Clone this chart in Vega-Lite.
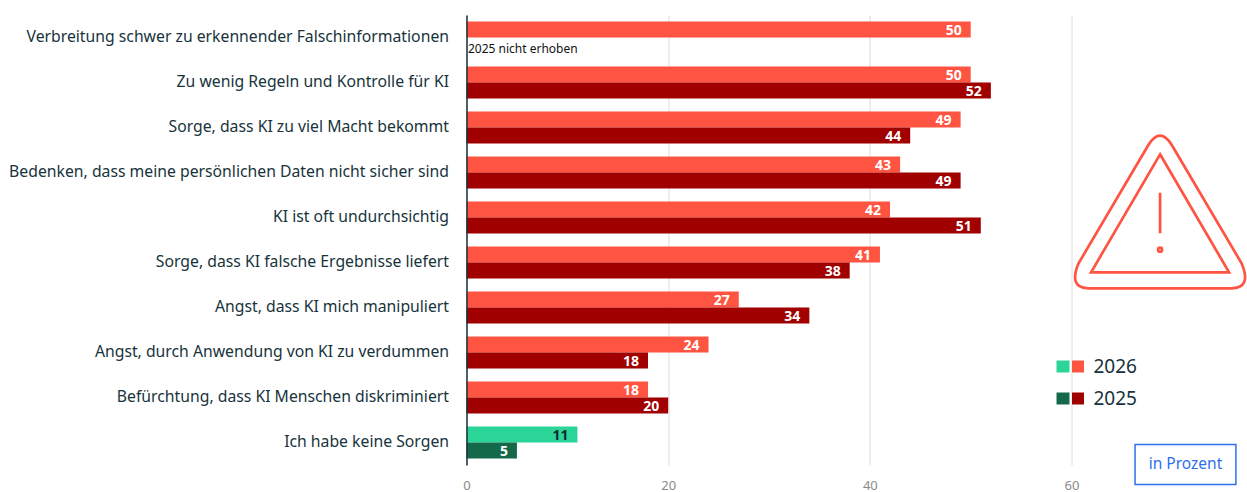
{
"$schema":"https://vega.github.io/schema/vega-lite/v6.json",
"width":780.5,"height":450,
"autosize":{"type":"none"},
"padding":{"left":466.5,"top":15,"right":0,"bottom":27},
"background":"white",
"config":{"view":{"stroke":null},"font":"Noto Sans"},
"datasets":{"bars":[
{"item":"Verbreitung schwer zu erkennender Falschinformationen","year":"2026","value":50},
{"item":"Zu wenig Regeln und Kontrolle für KI","year":"2026","value":50},
{"item":"Zu wenig Regeln und Kontrolle für KI","year":"2025","value":52},
{"item":"Sorge, dass KI zu viel Macht bekommt","year":"2026","value":49},
{"item":"Sorge, dass KI zu viel Macht bekommt","year":"2025","value":44},
{"item":"Bedenken, dass meine persönlichen Daten nicht sicher sind","year":"2026","value":43},
{"item":"Bedenken, dass meine persönlichen Daten nicht sicher sind","year":"2025","value":49},
{"item":"KI ist oft undurchsichtig","year":"2026","value":42},
{"item":"KI ist oft undurchsichtig","year":"2025","value":51},
{"item":"Sorge, dass KI falsche Ergebnisse liefert","year":"2026","value":41},
{"item":"Sorge, dass KI falsche Ergebnisse liefert","year":"2025","value":38},
{"item":"Angst, dass KI mich manipuliert","year":"2026","value":27},
{"item":"Angst, dass KI mich manipuliert","year":"2025","value":34},
{"item":"Angst, durch Anwendung von KI zu verdummen","year":"2026","value":24},
{"item":"Angst, durch Anwendung von KI zu verdummen","year":"2025","value":18},
{"item":"Befürchtung, dass KI Menschen diskriminiert","year":"2026","value":18},
{"item":"Befürchtung, dass KI Menschen diskriminiert","year":"2025","value":20},
{"item":"Ich habe keine Sorgen","year":"2026","value":11},
{"item":"Ich habe keine Sorgen","year":"2025","value":5}
]},
"layer":[
{"data":{"name":"bars"},
"encoding":{
"y":{"field":"item","type":"nominal","title":null,
"sort":["Verbreitung schwer zu erkennender Falschinformationen","Zu wenig Regeln und Kontrolle für KI","Sorge, dass KI zu viel Macht bekommt","Bedenken, dass meine persönlichen Daten nicht sicher sind","KI ist oft undurchsichtig","Sorge, dass KI falsche Ergebnisse liefert","Angst, dass KI mich manipuliert","Angst, durch Anwendung von KI zu verdummen","Befürchtung, dass KI Menschen diskriminiert","Ich habe keine Sorgen"],
"scale":{"padding":0},
"axis":{"ticks":false,"domain":true,"domainColor":"#17333b","domainWidth":1.5,"labelFontSize":15.75,"labelColor":"#17333b","labelPadding":18,"labelLimit":470,"labelOffset":-1,"grid":false,"zindex":1}},
"yOffset":{"field":"year","type":"nominal","sort":["2026","2025"],"scale":{"domain":["2026","2025"],"paddingOuter":0.406,"paddingInner":0}},
"x":{"field":"value","type":"quantitative","title":null,"scale":{"domain":[0,77.4],"nice":false,"zero":true},
"axis":{"values":[0,20,40,60],"domain":false,"ticks":false,"grid":true,"gridColor":"#dcdcdc","gridWidth":1,"labelFontSize":13,"labelColor":"#8a8a8a","labelPadding":14,"labelFlush":false,"zindex":0}}
},
"layer":[
{"transform":[{"filter":"datum.item !== 'Ich habe keine Sorgen'"}],
"mark":{"type":"bar"},
"encoding":{"color":{"field":"year","type":"nominal","scale":{"domain":["2026","2025"],"range":["#ff5442","#a00000"]},
"legend":{"orient":"none","legendX":602,"legendY":342,"title":null,"padding":0,"symbolType":"square","symbolSize":144,"symbolStrokeWidth":0,"labelFontSize":19,"labelColor":"#17333b","labelOffset":6,"rowPadding":12}}}},
{"transform":[{"filter":"datum.item === 'Ich habe keine Sorgen'"}],
"mark":{"type":"bar"},
"encoding":{"color":{"field":"year","type":"nominal","scale":{"domain":["2026","2025"],"range":["#2bd497","#14694b"]},
"legend":{"orient":"none","legendX":587,"legendY":342,"title":null,"padding":0,"symbolType":"M-1.08 -1H1.08V1H-1.08Z","symbolSize":144,"symbolStrokeWidth":0,"labelFontSize":19,"labelExpr":"''","labelOffset":0,"rowPadding":12}}}},
{"transform":[{"filter":"datum.value !== 11"}],
"mark":{"type":"text","align":"right","baseline":"middle","dx":-9,"dy":1.5,"fontSize":14,"fontWeight":"bold","color":"white"},
"encoding":{"text":{"field":"value","type":"quantitative"}}},
{"transform":[{"filter":"datum.value === 11"}],
"mark":{"type":"text","align":"right","baseline":"middle","dx":-9,"dy":1.5,"fontSize":14,"fontWeight":"bold","color":"#0b2b33"},
"encoding":{"text":{"field":"value","type":"quantitative"}}},
{"data":{"values":[{"item":"Verbreitung schwer zu erkennender Falschinformationen","year":"2025","value":0,"note":"2025 nicht erhoben"}]},
"mark":{"type":"text","align":"left","baseline":"middle","dx":1.5,"dy":3.5,"fontSize":12,"color":"#111111"},
"encoding":{"text":{"field":"note","type":"nominal"}}}
],
"resolve":{"scale":{"color":"independent"}}
},
{"data":{"values":[{}]},
"mark":{"type":"point","filled":false,"stroke":"#ff5442","strokeWidth":2.7,"opacity":1,"shape":"M-11.7 -67Q0 -85.6 11.7 -67L81.5 51.3Q92 76.3 71 76.3L-71 76.3Q-92 76.3 -81.5 51.3ZM0 -57.7L69 60.3L-69 60.3ZM0 -19.3L0 21.3M-2 37.7A2 2 0 1 1 2 37.7A2 2 0 1 1 -2 37.7Z","size":4},
"encoding":{
"x":{"datum":68.78,"type":"quantitative"},
"y":{"datum":212,"type":"quantitative","scale":{"domain":[15,465],"reverse":true,"nice":false,"zero":false},"axis":null}}},
{"data":{"values":[{}]},
"mark":{"type":"rect","fill":"white","stroke":"#2f6fed","strokeWidth":1.5},
"encoding":{
"x":{"datum":66.3,"type":"quantitative"},"x2":{"datum":76.3},
"y":{"datum":444.5,"type":"quantitative","scale":{"domain":[15,465],"reverse":true,"nice":false,"zero":false},"axis":null},"y2":{"datum":484.5}}},
{"data":{"values":[{"label":"in Prozent"}]},
"mark":{"type":"text","align":"center","baseline":"middle","fontSize":15.5,"color":"#2f6fed"},
"encoding":{
"x":{"datum":71.3,"type":"quantitative"},
"y":{"datum":464,"type":"quantitative","scale":{"domain":[15,465],"reverse":true,"nice":false,"zero":false},"axis":null},
"text":{"field":"label","type":"nominal"}}}
],
"resolve":{"scale":{"y":"independent","color":"independent"},"axis":{"y":"independent"}}
}
